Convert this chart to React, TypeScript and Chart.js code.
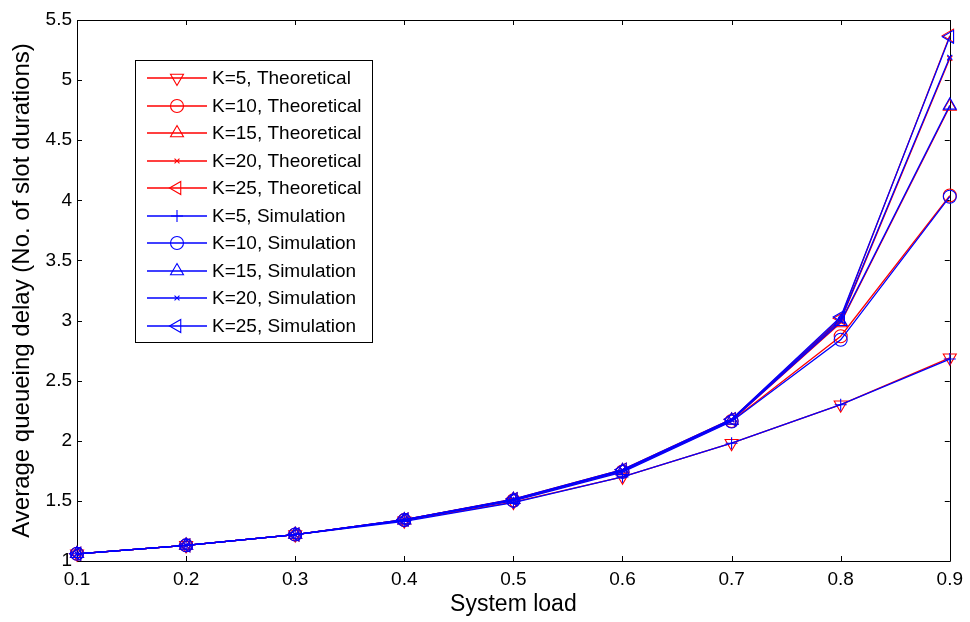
import React, { useEffect, useRef } from "react";
import { Chart, registerables } from "chart.js";
import { drawPoint } from "chart.js/helpers";

Chart.register(...registerables);

const loads = [0.1, 0.2, 0.3, 0.4, 0.5, 0.6, 0.7, 0.8, 0.9];
const yTickValues = [1, 1.5, 2, 2.5, 3, 3.5, 4, 4.5, 5, 5.5];

const theoK5 = [1.06, 1.13, 1.22, 1.335, 1.49, 1.70, 1.98, 2.30, 2.69];
const theoK10 = [1.06, 1.13, 1.22, 1.34, 1.505, 1.745, 2.165, 2.87, 4.04];
const theoK15 = [1.06, 1.13, 1.22, 1.34, 1.51, 1.75, 2.17, 2.98, 4.78];
const theoK20 = [1.06, 1.13, 1.22, 1.345, 1.51, 1.755, 2.175, 3.00, 5.18];
const theoK25 = [1.06, 1.13, 1.22, 1.345, 1.515, 1.76, 2.18, 3.02, 5.37];

const simK5 = [1.06, 1.13, 1.22, 1.33, 1.485, 1.70, 1.98, 2.30, 2.68];
const simK10 = [1.06, 1.13, 1.22, 1.34, 1.50, 1.74, 2.16, 2.84, 4.03];
const simK15 = [1.06, 1.13, 1.22, 1.34, 1.51, 1.75, 2.17, 2.99, 4.79];
const simK20 = [1.06, 1.13, 1.22, 1.345, 1.51, 1.755, 2.175, 3.01, 5.19];
const simK25 = [1.06, 1.13, 1.22, 1.345, 1.515, 1.76, 2.18, 3.03, 5.36];

const labels = [
  "K=5, Theoretical",
  "K=10, Theoretical",
  "K=15, Theoretical",
  "K=20, Theoretical",
  "K=25, Theoretical",
  "K=5, Simulation",
  "K=10, Simulation",
  "K=15, Simulation",
  "K=20, Simulation",
  "K=25, Simulation",
];

const FONT = "'Liberation Sans', Arial, sans-serif";
const RED = "rgb(255,0,0)";
const BLUE = "rgb(0,0,255)";

type Marker = { style: string; radius: number; rotation: number };
const markers: Marker[] = [
  { style: "triangle", radius: 7.5, rotation: 180 },
  { style: "circle", radius: 6.5, rotation: 0 },
  { style: "triangle", radius: 7.5, rotation: 0 },
  { style: "crossRot", radius: 3.5, rotation: 0 },
  { style: "triangle", radius: 7.5, rotation: 270 },
];
const simMarkers: Marker[] = [
  { style: "cross", radius: 6, rotation: 0 },
  ...markers.slice(1),
];

function makeDataset(label: string, values: number[], color: string, m: Marker, order: number) {
  return {
    label,
    data: loads.map((x, i) => ({ x, y: values[i] })),
    borderColor: color,
    backgroundColor: color,
    borderWidth: 1.3,
    pointStyle: m.style,
    pointRadius: m.radius,
    pointRotation: m.rotation,
    pointBorderColor: color,
    pointBackgroundColor: "rgba(0,0,0,0)",
    pointBorderWidth: 1.1,
    tension: 0,
    clip: 12,
    order,
  };
}

const framePlugin = {
  id: "frameTicks",
  beforeDatasetsDraw(chart: any) {
    const { ctx, chartArea, scales } = chart;
    const { left, right, top, bottom } = chartArea;
    const L = 5;
    ctx.save();
    ctx.strokeStyle = "#000";
    ctx.lineWidth = 1;
    ctx.beginPath();
    ctx.rect(Math.round(left) + 0.5, Math.round(top) + 0.5, Math.round(right - left), Math.round(bottom - top));
    ctx.stroke();
    ctx.beginPath();
    for (const v of loads) {
      const px = Math.round(scales.x.getPixelForValue(v)) + 0.5;
      ctx.moveTo(px, bottom);
      ctx.lineTo(px, bottom - L);
      ctx.moveTo(px, top);
      ctx.lineTo(px, top + L);
    }
    for (const v of yTickValues) {
      const py = Math.round(scales.y.getPixelForValue(v)) + 0.5;
      ctx.moveTo(left, py);
      ctx.lineTo(left + L, py);
      ctx.moveTo(right, py);
      ctx.lineTo(right - L, py);
    }
    ctx.stroke();
    ctx.restore();
  },
};

const legendPlugin = {
  id: "boxLegend",
  afterDatasetsDraw(chart: any) {
    const { ctx } = chart;
    const boxL = 135.5, boxT = 60.5, boxW = 237, boxH = 282;
    ctx.save();
    ctx.fillStyle = "#fff";
    ctx.fillRect(boxL, boxT, boxW, boxH);
    ctx.strokeStyle = "#000";
    ctx.lineWidth = 1;
    ctx.strokeRect(boxL, boxT, boxW, boxH);
    const ds = chart.data.datasets;
    const rowStep = 27.5;
    ds.forEach((d: any, i: number) => {
      const y = Math.round(78 + i * rowStep);
      ctx.save();
      ctx.strokeStyle = d.borderColor;
      ctx.lineWidth = 1.3;
      ctx.beginPath();
      ctx.moveTo(147, y);
      ctx.lineTo(207, y);
      ctx.stroke();
      ctx.lineWidth = 1.1;
      ctx.strokeStyle = d.borderColor;
      ctx.fillStyle = "rgba(0,0,0,0)";
      drawPoint(ctx, { pointStyle: d.pointStyle, radius: d.pointRadius, rotation: d.pointRotation, borderWidth: 1.1 }, 177, y);
      ctx.restore();
      ctx.save();
      ctx.font = `19px ${FONT}`;
      ctx.textBaseline = "middle";
      ctx.textAlign = "left";
      ctx.fillStyle = "#000";
      ctx.fillText(d.label, 212, y + 1);
      ctx.restore();
    });
    ctx.restore();
  },
};

export default function App() {
  const canvasRef = useRef<HTMLCanvasElement | null>(null);

  useEffect(() => {
    const canvas = canvasRef.current;
    if (!canvas) return;
    const theo = [theoK5, theoK10, theoK15, theoK20, theoK25];
    const sim = [simK5, simK10, simK15, simK20, simK25];
    const datasets = [
      ...theo.map((v, i) => makeDataset(labels[i], v, RED, markers[i], 10)),
      ...sim.map((v, i) => makeDataset(labels[i + 5], v, BLUE, simMarkers[i], 5)),
    ];
    const chart = new Chart(canvas, {
      type: "line",
      data: { datasets },
      plugins: [framePlugin, legendPlugin],
      options: {
        animation: false,
        responsive: false,
        maintainAspectRatio: false,
        layout: { padding: { top: 20, right: 17, left: 0, bottom: 0 } },
        plugins: {
          legend: { display: false },
          tooltip: { enabled: false },
        },
        scales: {
          x: {
            type: "linear",
            min: 0.1,
            max: 0.9,
            afterBuildTicks: (scale: any) => {
              scale.ticks = loads.map((v) => ({ value: v }));
            },
            afterFit: (scale: any) => {
              scale.height = 61;
            },
            grid: { display: false, drawTicks: false },
            border: { display: false },
            ticks: {
              color: "#000",
              font: { family: FONT, size: 19 },
              padding: 7,
              maxRotation: 0,
              autoSkip: false,
              callback: (v: any) => Number(v).toFixed(1),
            },
            title: {
              display: true,
              text: "System load",
              color: "#000",
              font: { family: FONT, size: 23 },
              padding: { top: 0, bottom: 4 },
            },
          },
          y: {
            type: "linear",
            min: 1,
            max: 5.5,
            afterBuildTicks: (scale: any) => {
              scale.ticks = yTickValues.map((v) => ({ value: v }));
            },
            afterFit: (scale: any) => {
              scale.width = 77;
            },
            grid: { display: false, drawTicks: false },
            border: { display: false },
            ticks: {
              color: "#000",
              font: { family: FONT, size: 19 },
              padding: 5,
              autoSkip: false,
              callback: (v: any) => String(Number(v)),
            },
            title: {
              display: true,
              text: "Average queueing delay (No. of slot durations)",
              color: "#000",
              font: { family: FONT, size: 24 },
              padding: { top: 8, bottom: 0 },
            },
          },
        },
      },
    });
    return () => chart.destroy();
  }, []);

  return (
    <div style={{ position: "fixed", left: 0, top: 0, width: 970, height: 622, background: "#fff" }}>
      <canvas ref={canvasRef} width={970} height={622} style={{ width: 970, height: 622, display: "block" }} />
    </div>
  );
}
